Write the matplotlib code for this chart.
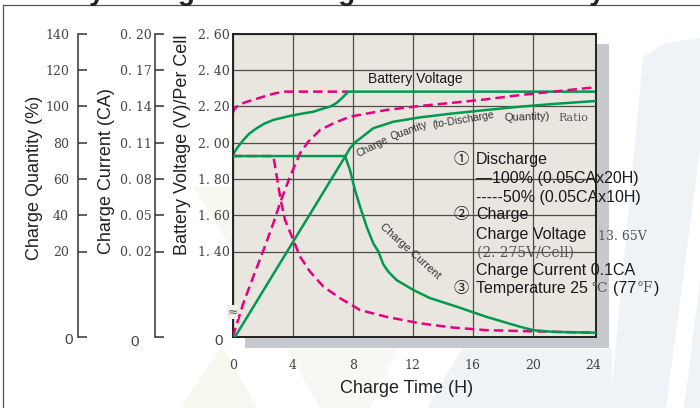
import numpy as np
import matplotlib
matplotlib.use("Agg")
import matplotlib.pyplot as plt
from matplotlib.patches import Rectangle, Polygon
from matplotlib.lines import Line2D

plt.rcParams['font.family'] = ['Liberation Sans', 'DejaVu Sans']

# ---- data (hours / volts / CA / %) ----
# battery voltage, 100% discharge (solid) and 50% discharge (dashed)
v100_h = [0, 0.3, 0.71, 1.1, 1.6, 2.1, 2.71, 3.82, 4.71, 5.37, 6.0, 6.49, 6.9, 7.27, 7.71, 24.15]
v100_v = [1.932, 1.972, 2.015, 2.05, 2.08, 2.105, 2.126, 2.148, 2.162, 2.171, 2.188, 2.199, 2.218, 2.245, 2.282, 2.282]
v50_h = [0, 0.1, 0.27, 0.5, 0.93, 1.5, 2.04, 2.7, 3.37, 7.7]
v50_v = [2.162, 2.185, 2.199, 2.212, 2.226, 2.240, 2.254, 2.270, 2.282, 2.282]

# charge current
c100_h = [0, 7.49, 7.82, 8.15, 8.49, 8.93, 9.37, 9.71, 10.04, 10.37, 10.93, 12.04, 13.15, 14.93,
          16.93, 19.15, 20.04, 21.37, 24.15]
c100_i = [0.099, 0.099, 0.0874, 0.0709, 0.0571, 0.0405, 0.0268, 0.0200, 0.0170, 0.0153, 0.0133,
          0.0110, 0.0091, 0.0071, 0.0047, 0.0024, 0.0016, 0.0012, 0.0010]
c50_h = [0, 2.71, 3.2, 3.49, 4.04, 4.49, 5.15, 6.04, 7.15, 8.49, 10.27, 12.49, 14.71, 16.93, 19.15, 24.15]
c50_i = [0.099, 0.099, 0.0626, 0.0461, 0.0295, 0.0188, 0.0153, 0.0118, 0.0091, 0.0063, 0.0047, 0.0032, 0.0022, 0.0016, 0.0014, 0.0010]

# charge quantity (to-discharge quantity) ratio
q100_h = [0.15, 3.63, 7.49, 7.82, 8.2, 8.6, 9.37, 10.71, 12.49, 14.71, 16.93, 19.15, 21.37, 24.15]
q100_q = [0, 20, 72.3, 77.0, 80.5, 83.0, 88.0, 91.6, 94.0, 96.2, 98.1, 99.9, 101.4, 103.0]
q50_h = [0, 0.71, 1.37, 2.04, 2.71, 3.15, 3.82, 4.49, 5.04, 5.82, 6.71, 7.82, 10.27, 12.49, 14.71, 16.93, 19.15, 21.37, 24.15]
q50_q = [0, 7.9, 14.1, 20.5, 35.6, 46.6, 61.3, 74.2, 80.6, 87.0, 90.7, 94.4, 98.1, 100.3, 102.1, 104.0, 106.3, 108.2, 110.6]

x_ticks = [0, 4, 8, 12, 16, 20, 24]
v_ticks = [0, 1.40, 1.60, 1.80, 2.00, 2.20, 2.40, 2.60]
v_labels = ['', '1. 40', '1. 60', '1. 80', '2. 00', '2. 20', '2. 40', '2. 60']
i_ticks = [0, 0.02, 0.05, 0.08, 0.11, 0.14, 0.17, 0.20]
i_labels = ['', '0. 02', '0. 05', '0. 08', '0. 11', '0. 14', '0. 17', '0. 20']
q_ticks = [0, 20, 40, 60, 80, 100, 120, 140]
q_labels = ['', '20', '40', '60', '80', '100', '120', '140']

GREEN = '#009a4e'
PINK = '#e5007f'
W, H = 700, 408


def fxy(x, y):
    return x / W, 1 - y / H


# broken axis: the bottom band holds 0..break, each step above is one grid cell
LOW, CELL = 85.5, 36.25


def broken(brk, step):
    def fwd(v):
        v = np.asarray(v, float)
        return np.where(v < brk, v / brk * LOW, LOW + (v - brk) / step * CELL)

    def inv(t):
        t = np.asarray(t, float)
        return np.where(t < LOW, t / LOW * brk, brk + (t - LOW) / CELL * step)
    return fwd, inv


fig = plt.figure(figsize=(7, 4.08), dpi=100)

# faint watermark shapes and the frame
for pts, col in [
    ([(193, 187), (233, 187), (233, 250)], '#f4f8ee'),
    ([(180, 408), (222, 345), (257, 408)], '#f4f8ee'),
    ([(287, 349), (397, 349), (370, 408), (320, 408)], '#f6f9f1'),
    ([(427, 408), (462, 349), (612, 349), (612, 408)], '#eef3f8'),
    ([(610, 408), (643, 57), (665, 43), (700, 38), (700, 150), (666, 408)], '#eef3f8'),
    ([(684, 408), (700, 280), (700, 408)], '#eef3f8'),
]:
    fig.add_artist(Polygon([fxy(*p) for p in pts], closed=True, transform=fig.transFigure,
                           facecolor=col, edgecolor='none', zorder=-2))
fig.add_artist(Line2D([fxy(3, 0)[0], fxy(3, 0)[0]], [0, fxy(0, 4.7)[1]], transform=fig.transFigure,
                      color='#555555', lw=0.9))
fig.add_artist(Line2D([fxy(3, 0)[0], 1], [fxy(0, 4.7)[1]] * 2, transform=fig.transFigure,
                      color='#555555', lw=0.9))
fig.text(*fxy(9, 0.5), 'Battery Voltage and Charge Time for Standby Use', fontsize=20,
         fontweight='bold', color='#222222', va='baseline', ha='left')

# drop shadow behind the plot
fig.add_artist(Rectangle(fxy(245, 348), (609 - 245) / W, (348 - 44) / H, transform=fig.transFigure,
                         facecolor='#c6c9cd', edgecolor='none', zorder=-1))

ax = fig.add_axes([232.7 / W, (H - 337) / H, 363.3 / W, 303 / H])
ax.set_facecolor('#e9e6df')
axI = ax.twinx()
axQ = ax.twinx()

ax.set_yscale('function', functions=broken(1.40, 0.20))
axI.set_yscale('function', functions=broken(0.02, 0.03))
axQ.set_yscale('function', functions=broken(20, 20))

ax.plot(v50_h, v50_v, color=PINK, lw=1.8, dashes=(3.8, 2.0))
ax.plot(v100_h, v100_v, color=GREEN, lw=1.8)
axI.plot(c50_h, c50_i, color=PINK, lw=1.8, dashes=(3.8, 2.0))
axI.plot(c100_h, c100_i, color=GREEN, lw=1.8)
axQ.plot(q50_h, q50_q, color=PINK, lw=1.8, dashes=(3.8, 2.0))
axQ.plot(q100_h, q100_q, color=GREEN, lw=1.8)

ax.set_xlim(0, 24.22)
ax.set_ylim(0, 2.60)
axI.set_ylim(0, 0.20)
axQ.set_ylim(0, 140)

tick_font = dict(fontfamily='DejaVu Serif', fontsize=9, color='#444444')
ax.set_xticks(x_ticks)
ax.set_xticklabels([str(t) for t in x_ticks], **tick_font)
ax.set_yticks(v_ticks)
ax.set_yticklabels(v_labels, **tick_font)
ax.tick_params(axis='x', length=0, pad=16)
ax.tick_params(axis='y', length=0, pad=2)
ax.grid(True, color='#4d4d4d', lw=0.9)
ax.get_xgridlines()[-1].set_visible(False)
for s in ax.spines.values():
    s.set_color('#222222')
    s.set_linewidth(1.4)

for a, pos, ticks, labels, pad in [(axI, -0.213, i_ticks, i_labels, 2.6),
                                   (axQ, -0.4266, q_ticks, q_labels, 6.3)]:
    a.yaxis.tick_left()
    a.yaxis.set_label_position('left')
    for k in ('top', 'right', 'bottom'):
        a.spines[k].set_visible(False)
    a.spines['left'].set_visible(True)
    a.spines['left'].set_position(('axes', pos))
    a.spines['left'].set_color('#333333')
    a.spines['left'].set_linewidth(1.1)
    a.set_yticks(ticks)
    a.set_yticklabels(labels, **tick_font)
    a.tick_params(axis='y', direction='in', length=6.5, width=1.1, color='#333333', pad=pad)
    a.minorticks_off()
ax.minorticks_off()


def txt(x, y, s, **kw):
    kw.setdefault('ha', 'left')
    kw.setdefault('va', 'center')
    kw.setdefault('color', '#1a1a1a')
    return fig.text(*fxy(x, y), s, **kw)


# zero labels of the three value axes
txt(72.7, 340, '0', ha='right', fontsize=11, color='#444444')
txt(139, 342, '0', ha='right', fontsize=11, color='#444444')
txt(223, 341, '0', ha='right', fontsize=11, color='#444444')
txt(232.7, 312, '\u2248', ha='center', fontsize=9, color='#555555', family=['DejaVu Sans'],
    bbox=dict(facecolor='#f1efea', edgecolor='none', pad=0.3))

# axis titles
txt(34.5, 177.5, 'Charge Quantity (%)', ha='center', rotation=90, fontsize=13, color='#222222')
txt(106, 171.5, 'Charge Current (CA)', ha='center', rotation=90, fontsize=13, color='#222222')
txt(182.5, 145, 'Battery Voltage (V)/Per Cell', ha='center', rotation=90, fontsize=13, color='#222222')
txt(406.7, 388.5, 'Charge Time (H)', ha='center', fontsize=13, color='#222222')

# curve labels
txt(415, 79, 'Battery Voltage', ha='center', fontsize=10)
for s, x, y, r in [('Charge', 372, 147, 27), ('Quantity', 409, 131, 20),
                   ('(to-Discharge', 463, 120, 9.5), ('Quantity)', 527, 117.5, 2)]:
    txt(x, y, s, ha='center', rotation=r, rotation_mode='anchor', fontsize=8 if s == 'Quantity)' else 7.5,
        color='#333333')
txt(558, 118, 'Ratio', fontsize=8, family=['DejaVu Serif'], color='#555555')
txt(410, 251, 'Charge Current', ha='center', rotation=-42, rotation_mode='anchor', fontsize=8,
    color='#333333')

# condition notes
CIRC = ['Noto Sans CJK SC', 'DejaVu Sans']
SERIF = ['DejaVu Serif', 'Noto Sans CJK SC']
txt(453, 159.5, '\u2460', family=CIRC, fontsize=11)
txt(476, 159.7, 'Discharge', fontsize=11.5)
txt(476, 179, '\u2014100% (0.05CAx20H)', fontsize=11.5)
txt(476, 197.3, '-----50% (0.05CAx10H)', fontsize=11.5)
txt(453, 215, '\u2461', family=CIRC, fontsize=11)
txt(476, 215, 'Charge', fontsize=11.5)
txt(476, 234.3, 'Charge Voltage', fontsize=11.5)
txt(598, 236.7, '13. 65V', family=SERIF, fontsize=9, color='#555555')
txt(477, 252.3, '(2. 275V/Cell)', family=SERIF, fontsize=10, color='#555555')
txt(476, 271, 'Charge Current 0.1CA', fontsize=11.5)
txt(453, 289, '\u2462', family=CIRC, fontsize=11)
txt(476, 289, 'Temperature 25', fontsize=11.5)
txt(591, 288, '\u2103', family=SERIF, fontsize=10, color='#555555')
txt(613, 289, '(77', fontsize=11.5)
txt(637, 288, '\u00b0F', family=SERIF, fontsize=10, color='#555555')
txt(654, 289, ')', fontsize=11.5)

fig.savefig('out.png', dpi=100)
